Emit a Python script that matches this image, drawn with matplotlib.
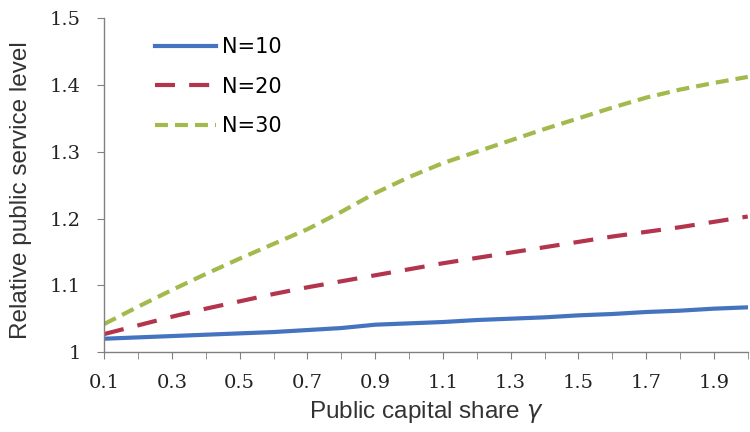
import numpy as np
import matplotlib.pyplot as plt

# ---- data ----
gamma = [0.1, 0.2, 0.3, 0.4, 0.5, 0.6, 0.7, 0.8, 0.9, 1.0,
         1.1, 1.2, 1.3, 1.4, 1.5, 1.6, 1.7, 1.8, 1.9, 2.0]

n10 = [1.020, 1.022, 1.024, 1.026, 1.028, 1.030, 1.033, 1.036, 1.041, 1.043,
       1.045, 1.048, 1.050, 1.052, 1.055, 1.057, 1.060, 1.062, 1.065, 1.067]

n20 = [1.027, 1.040, 1.053, 1.065, 1.076, 1.087, 1.097, 1.106, 1.115, 1.124,
       1.133, 1.141, 1.149, 1.157, 1.165, 1.173, 1.180, 1.187, 1.195, 1.203]

n30 = [1.042, 1.068, 1.093, 1.117, 1.140, 1.162, 1.184, 1.210, 1.238, 1.262,
       1.283, 1.300, 1.317, 1.334, 1.350, 1.366, 1.381, 1.393, 1.403, 1.412]

xtick_labels = ['0.1', '0.3', '0.5', '0.7', '0.9', '1.1', '1.3', '1.5', '1.7', '1.9']
yticks = [1.0, 1.1, 1.2, 1.3, 1.4, 1.5]
ytick_labels = ['1', '1.1', '1.2', '1.3', '1.4', '1.5']

# ---- figure ----
fig = plt.figure(figsize=(7.5, 4.32), dpi=100)
ax = fig.add_axes([0.139, 0.185, 0.858, 0.773])

ax.plot(gamma, n10, color='#4474C0', lw=3, label='N=10')
ax.plot(gamma, n20, color='#B2354D', lw=3, dashes=(4.8, 3.4), label='N=20')
ax.plot(gamma, n30, color='#A2B94C', lw=3, dashes=(3.1, 1.7), label='N=30')

ax.set_xlim(0.1, 2.0)
ax.set_ylim(1.0, 1.5)

ax.set_xticks(gamma, minor=True)
ax.set_xticks([float(s) for s in xtick_labels])
ax.set_xticklabels(xtick_labels, family='DejaVu Serif', fontsize=14, color='#222222')
ax.set_yticks(yticks)
ax.set_yticklabels(ytick_labels, family='DejaVu Serif', fontsize=14, color='#222222')

ax.tick_params(axis='x', which='both', length=5, color='#808080', direction='out', pad=11)
ax.tick_params(axis='y', length=5, color='#808080', direction='out', pad=12)

for s in ['top', 'right']:
    ax.spines[s].set_visible(False)
for s in ['left', 'bottom']:
    ax.spines[s].set_color('#808080')
    ax.spines[s].set_linewidth(1)

ax.set_xlabel('Public capital share $\\gamma$', family='Liberation Sans', fontsize=17.5,
              color='#333333', labelpad=5)
ax.set_ylabel('Relative public service level', family='Liberation Sans', fontsize=17.5,
              color='#333333')
ax.yaxis.set_label_coords(-0.113, 0.485)

leg = ax.legend(loc='upper left', bbox_to_anchor=(0.05, 1.0), frameon=False,
                fontsize=15, handlelength=2.9, handletextpad=0.3, labelspacing=0.95)

fig.savefig('out.png', dpi=100)
